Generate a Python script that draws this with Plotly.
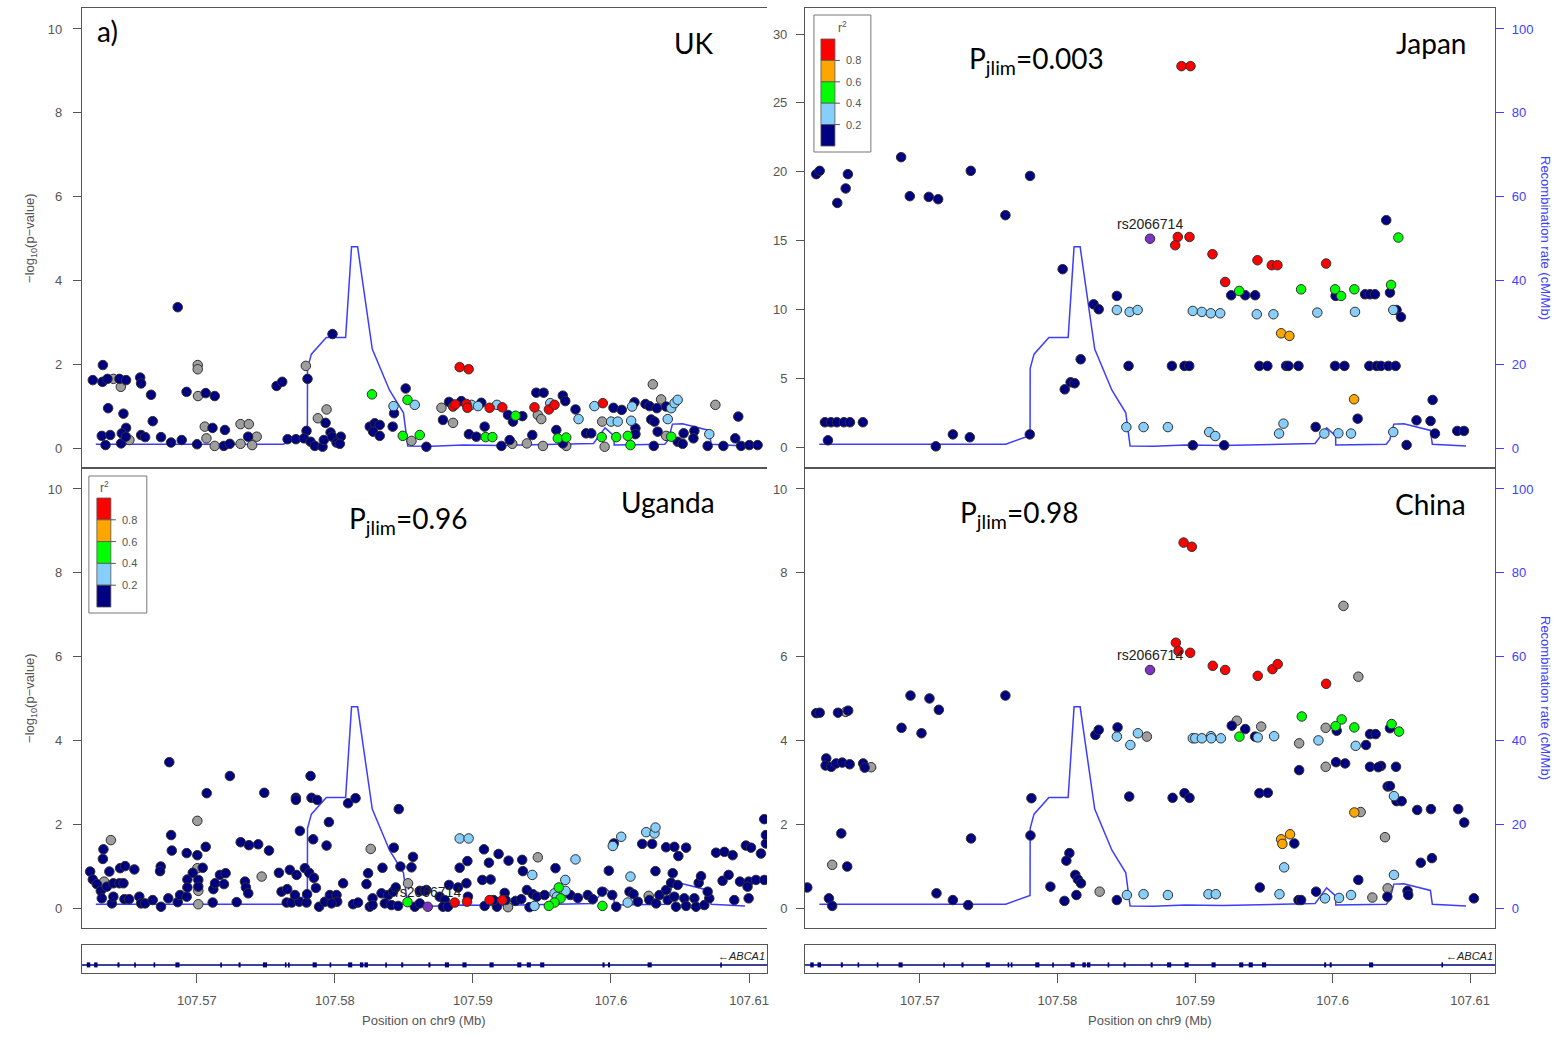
import plotly.graph_objects as go

# ---------------- data ----------------
tick_vals = [107.57, 107.58, 107.59, 107.60, 107.61]
tick_text = ["107.57", "107.58", "107.59", "107.6", "107.61"]
p_ticks_10 = [0, 2, 4, 6, 8, 10]
p_ticks_jp = [0, 5, 10, 15, 20, 25, 30]
rec_ticks = [0, 20, 40, 60, 80, 100]

index_snp = "rs2066714"
gene_name = "ABCA1"
pjlim_japan = "0.003"
pjlim_uganda = "0.96"
pjlim_china = "0.98"
legend_labels = ["0.8", "0.6", "0.4", "0.2"]

recomb_pos = [107.56269, 107.57624, 107.57801, 107.57802, 107.57830, 107.57938, 107.58078,
              107.58121, 107.58165, 107.58271, 107.58396, 107.58497, 107.58528, 107.58700,
              107.58930, 107.59200, 107.59873, 107.59957, 107.60022, 107.60023, 107.60390,
              107.60416, 107.60445, 107.60518, 107.60711, 107.60725, 107.60970]
recomb_rate = [0.9, 0.9, 3.0, 19.0, 22.4, 26.4, 26.4, 48.0, 48.0, 23.6, 13.8, 8.4, 0.5, 0.4,
               0.7, 0.6, 1.1, 4.8, 2.9, 0.7, 0.9, 2.0, 5.7, 5.8, 4.2, 0.9, 0.5]

gene_span = [107.5430, 107.6900]
exon_pos = [107.56216, 107.56269, 107.56433, 107.56553, 107.56693, 107.56860, 107.57176, 107.57310,
            107.57494, 107.57644, 107.57667, 107.57854, 107.57968, 107.58111, 107.58194, 107.58227,
            107.58371, 107.58488, 107.58685, 107.58812, 107.58939, 107.59135, 107.59336, 107.59405,
            107.59502, 107.59946, 107.59986, 107.60280, 107.60797]
exon_len_kb = [0.25, 0.25, 0.15, 0.12, 0.12, 0.3, 0.12, 0.15, 0.3, 0.12, 0.12, 0.3, 0.12, 0.3, 0.25,
               0.25, 0.12, 0.15, 0.15, 0.3, 0.3, 0.3, 0.3, 0.3, 0.3, 0.15, 0.15, 0.3, 0.12]

# LD codes: x = no r2 (grey), n <0.2, l 0.2-0.4, g 0.4-0.6, o 0.6-0.8, r >0.8, p = index SNP
uk_pos = [107.56862, 107.56320, 107.56247, 107.56317, 107.56353, 107.56396, 107.56440, 107.56488, 107.56450, 107.56590,
          107.56597, 107.56358, 107.56469, 107.56669, 107.56681, 107.56312, 107.56373, 107.56339, 107.56452, 107.56488,
          107.56457, 107.56486, 107.56512, 107.56597, 107.56626, 107.56741, 107.56814, 107.56891, 107.57007, 107.57007,
          107.56926, 107.57009, 107.57065, 107.57130, 107.57058, 107.57114, 107.57204, 107.57070, 107.57002, 107.57130,
          107.57196, 107.57239, 107.57317, 107.57377, 107.57317, 107.57401, 107.57372, 107.57434, 107.57578, 107.57619,
          107.57658, 107.57718, 107.57790, 107.57802, 107.57983, 107.57940, 107.57877, 107.57933, 107.57795, 107.57776,
          107.57824, 107.57855, 107.57911, 107.57920, 107.57969, 107.57980, 107.58043, 107.58012, 107.58036, 107.58269,
          107.58513, 107.58526, 107.58579, 107.58425, 107.58429, 107.58419, 107.58253, 107.58289, 107.58325, 107.58277,
          107.58325, 107.58492, 107.58615, 107.58555, 107.58663, 107.58904, 107.58969, 107.58772, 107.58827, 107.58856,
          107.58873, 107.58916, 107.58953, 107.58960, 107.58989, 107.59037, 107.59061, 107.59121, 107.59174, 107.59213,
          107.58783, 107.58856, 107.59085, 107.59254, 107.59309, 107.59358, 107.59290, 107.58971, 107.59025, 107.59092,
          107.59141, 107.59206, 107.59266, 107.59285, 107.59391, 107.59430, 107.59507, 107.59459, 107.59512, 107.59446,
          107.59550, 107.59591, 107.59560, 107.59470, 107.59495, 107.59651, 107.59669, 107.59743, 107.59765, 107.59604,
          107.59615, 107.59676, 107.59676, 107.59651, 107.59820, 107.59857, 107.59936, 107.60001, 107.60049, 107.59880,
          107.59941, 107.60018, 107.60078, 107.59933, 107.60038, 107.59954, 107.60122, 107.60141, 107.60177, 107.60177,
          107.60146, 107.60153, 107.60170, 107.60250, 107.60279, 107.60303, 107.60332, 107.60363, 107.60399, 107.60436,
          107.60460, 107.60483, 107.60411, 107.60291, 107.60315, 107.60338, 107.60399, 107.60436, 107.60483, 107.60519,
          107.60310, 107.60526, 107.60604, 107.60597, 107.60712, 107.60700, 107.60756, 107.60814, 107.60900, 107.60922,
          107.60942, 107.61002, 107.61062]
uk_logp = [3.36, 1.98, 1.62, 1.58, 1.65, 1.65, 1.65, 1.62, 1.46, 1.68,
           1.54, 0.95, 0.82, 1.27, 0.64, 0.29, 0.31, 0.07, 0.11, 0.48,
           0.35, 0.27, 0.19, 0.31, 0.26, 0.26, 0.13, 0.19, 1.98, 1.88,
           1.34, 1.24, 1.31, 1.24, 0.51, 0.48, 0.43, 0.23, 0.09, 0.05,
           0.05, 0.10, 0.57, 0.57, 0.10, 0.07, 0.27, 0.27, 1.48, 1.58,
           0.21, 0.21, 1.96, 1.65, 2.72, 0.92, 0.71, 0.60, 0.41, 0.23,
           0.15, 0.05, 0.03, 0.19, 0.37, 0.27, 0.27, 0.13, 0.10, 1.28,
           1.42, 1.15, 1.03, 1.00, 0.83, 0.51, 0.51, 0.59, 0.55, 0.39,
           0.29, 0.29, 0.31, 0.17, 0.03, 1.93, 1.88, 0.96, 1.10, 0.99,
           1.04, 1.12, 1.05, 0.96, 1.03, 1.00, 1.08, 0.96, 1.03, 0.97,
           0.67, 0.60, 0.51, 0.79, 0.77, 0.76, 0.63, 0.33, 0.27, 0.26,
           0.26, 0.05, 0.19, 0.10, 0.11, 0.31, 0.05, 1.32, 1.32, 0.97,
           0.92, 1.03, 1.07, 0.79, 0.69, 1.25, 1.12, 0.92, 0.69, 0.43,
           0.23, 0.25, 0.05, 0.11, 0.35, 0.35, 0.63, 0.63, 0.63, 1.00,
           1.07, 0.96, 0.91, 0.26, 0.26, 0.03, 0.29, 0.07, 0.47, 0.33,
           0.65, 0.99, 1.09, 1.05, 1.00, 1.52, 0.95, 1.16, 0.99, 0.95,
           1.07, 1.15, 0.69, 0.68, 0.63, 0.39, 0.29, 0.27, 0.15, 0.10,
           0.05, 0.35, 0.41, 0.23, 0.33, 0.05, 1.03, 0.05, 0.23, 0.75,
           0.05, 0.07, 0.07]
uk_ld = list("nnnnnxnnxn" "nnnnnnnnnn" "nnxnnnnnxx" "nxnnxnnxnx" "nnxxxxnxnn"
             "nnxnnxxnnn" "nnnnnnnnng" "ngllnnnnnn" "nggxnrrxnr" "rnrrllnrlr"
             "nxnngnnnng" "gnnxxnxnnr" "rrlxxnnnln" "ggxnnnxlll" "rnnggxggnn"
             "llnnnxnxnl" "lllnnnxgnn" "nnnnlnxnnn" "nnn")

jp_pos = [107.56247, 107.56272, 107.56477, 107.56461, 107.56400, 107.56864, 107.56927, 107.57065, 107.57133, 107.57370,
          107.57622, 107.57801, 107.56310, 107.56354, 107.56397, 107.56448, 107.56492, 107.56586, 107.56332, 107.57116,
          107.57240, 107.57363, 107.57799, 107.58038, 107.58053, 107.58096, 107.58125, 107.58169, 107.58263, 107.58300,
          107.58432, 107.58432, 107.58525, 107.58583, 107.58517, 107.58501, 107.58626, 107.58803, 107.58902, 107.58967,
          107.58875, 107.58960, 107.58856, 107.59127, 107.59454, 107.59558, 107.59599, 107.59953, 107.59219, 107.60390,
          107.60478, 107.58984, 107.59050, 107.59115, 107.59183, 107.59263, 107.59321, 107.59365, 107.59437, 107.59449,
          107.59570, 107.59771, 107.59889, 107.60022, 107.60018, 107.60062, 107.60158, 107.60236, 107.60272, 107.60308,
          107.60417, 107.60425, 107.60163, 107.60465, 107.60441, 107.60497, 107.59626, 107.59686, 107.58832, 107.58924,
          107.58958, 107.59468, 107.59526, 107.59662, 107.59679, 107.59752, 107.60018, 107.60086, 107.60267, 107.60320,
          107.60352, 107.60405, 107.60458, 107.60156, 107.60727, 107.60182, 107.60610, 107.60712, 107.60744, 107.60906,
          107.60955, 107.60538, 107.60441, 107.59877, 107.59940, 107.60042, 107.60134, 107.59643, 107.59611, 107.59103,
          107.59147, 107.58984, 107.59212, 107.58673]
jp_logp = [19.83, 20.07, 19.83, 18.79, 17.74, 21.06, 18.23, 18.18, 18.01, 20.07,
           16.85, 19.70, 1.82, 1.82, 1.82, 1.82, 1.82, 1.82, 0.51, 0.07,
           0.94, 0.73, 0.94, 12.93, 4.21, 4.72, 4.65, 6.39, 10.38, 10.02,
           10.99, 9.97, 9.83, 9.97, 5.91, 1.47, 1.47, 1.47, 27.67, 27.67,
           15.27, 15.27, 14.67, 14.02, 13.58, 13.22, 13.22, 13.34, 12.00, 16.49,
           15.23, 9.90, 9.83, 9.73, 9.73, 11.04, 11.35, 11.04, 11.04, 9.66,
           9.66, 11.47, 9.78, 10.99, 11.47, 10.99, 11.47, 11.11, 11.11, 11.11,
           11.23, 11.79, 9.83, 9.97, 9.97, 9.46, 8.28, 8.09, 5.91, 5.91,
           5.91, 5.91, 5.91, 5.91, 5.91, 5.91, 5.91, 5.91, 5.91, 5.91,
           5.91, 5.91, 5.91, 3.49, 3.44, 2.08, 1.96, 1.91, 1.00, 1.19,
           1.19, 0.17, 1.11, 1.48, 1.00, 1.02, 1.00, 1.72, 1.00, 1.11,
           0.82, 0.15, 0.15, 15.14]
jp_ld = list("nnnnnnnnnn" "nnnnnnnnnn" "nnnnnnnnnn" "nlllnlllrr" "rrrrrrrrrn"
             "gllllngnnl" "lglngggnnn" "nglnlnoonn" "nnnnnnnnnn" "nnnonnnnnn"
             "nnlnllllll" "lnnp")

ug_pos = [107.56801, 107.57240, 107.57824, 107.57072, 107.57489, 107.57718, 107.57718, 107.57831, 107.57872, 107.58096,
          107.58150, 107.58463, 107.57004, 107.56378, 107.56814, 107.57957, 107.57747, 107.57843, 107.56324, 107.56320,
          107.56819, 107.56927, 107.57004, 107.57065, 107.57318, 107.57378, 107.57445, 107.57523, 107.57940, 107.58260,
          107.58427, 107.58566, 107.56228, 107.56247, 107.56276, 107.56305, 107.56312, 107.56329, 107.56367, 107.56349,
          107.56396, 107.56385, 107.56396, 107.56445, 107.56481, 107.56548, 107.56440, 107.56469, 107.56476, 107.56510,
          107.56584, 107.56597, 107.56626, 107.56681, 107.56739, 107.56734, 107.56741, 107.56794, 107.56862, 107.56879,
          107.56927, 107.56932, 107.56932, 107.56971, 107.57004, 107.57043, 107.57011, 107.57011, 107.57011, 107.57011,
          107.57115, 107.57120, 107.57132, 107.57168, 107.57209, 107.57197, 107.57289, 107.57349, 107.57356, 107.57373,
          107.57470, 107.57595, 107.57614, 107.57655, 107.57674, 107.57723, 107.57651, 107.57687, 107.57742, 107.57795,
          107.57711, 107.57799, 107.57783, 107.57814, 107.57848, 107.57863, 107.57886, 107.57928, 107.57964, 107.58012,
          107.58017, 107.57976, 107.58060, 107.58132, 107.58168, 107.58241, 107.58229, 107.58253, 107.58273, 107.58273,
          107.58345, 107.58338, 107.58386, 107.58422, 107.58441, 107.58475, 107.58555, 107.58362, 107.58410, 107.58458,
          107.58530, 107.58526, 107.58579, 107.58615, 107.58663, 107.58868, 107.58957, 107.59121, 107.59213, 107.58904,
          107.58969, 107.59080, 107.59186, 107.59258, 107.58960, 107.58904, 107.59116, 107.59068, 107.59128, 107.58827,
          107.58892, 107.58953, 107.58759, 107.58796, 107.58783, 107.58819, 107.58615, 107.58651, 107.58964, 107.59085,
          107.59174, 107.59150, 107.59230, 107.59237, 107.59254, 107.59309, 107.59350, 107.59410, 107.59391, 107.59434,
          107.59470, 107.59357, 107.59362, 107.59430, 107.59446, 107.59463, 107.59519, 107.59598, 107.59591, 107.59608,
          107.59622, 107.59635, 107.59591, 107.59550, 107.59671, 107.59669, 107.59743, 107.59705, 107.59760, 107.59832,
          107.59868, 107.59936, 107.59938, 107.60009, 107.60038, 107.59984, 107.60013, 107.60020, 107.60074, 107.60141,
          107.60121, 107.60134, 107.60163, 107.60194, 107.60226, 107.60298, 107.60255, 107.60315, 107.60322, 107.60322,
          107.60273, 107.60278, 107.60327, 107.60351, 107.60399, 107.60411, 107.60399, 107.60459, 107.60544, 107.60488,
          107.60447, 107.60435, 107.60483, 107.60459, 107.60471, 107.60531, 107.60544, 107.60604, 107.60616, 107.60676,
          107.60712, 107.60635, 107.60652, 107.60700, 107.60761, 107.60821, 107.60881, 107.60808, 107.60852, 107.60893,
          107.60997, 107.60934, 107.60997, 107.61050, 107.61110, 107.60989, 107.60977, 107.61014, 107.61086, 107.61122,
          107.61122, 107.61110, 107.58673]
ug_logp = [3.48, 3.15, 3.15, 2.74, 2.75, 2.63, 2.58, 2.63, 2.58, 2.50,
           2.62, 2.36, 2.08, 1.62, 1.74, 2.05, 1.84, 1.64, 1.40, 1.17,
           1.37, 1.31, 1.26, 1.46, 1.57, 1.50, 1.52, 1.37, 1.49, 1.41,
           1.44, 1.22, 0.87, 0.68, 0.57, 0.41, 0.23, 0.63, 0.87, 0.51,
           0.59, 0.11, 0.27, 0.95, 1.00, 0.92, 0.59, 0.59, 0.21, 0.21,
           0.27, 0.11, 0.11, 0.19, 0.99, 0.88, 0.03, 0.23, 0.14, 0.31,
           0.27, 0.68, 0.49, 0.84, 0.95, 0.96, 0.67, 0.51, 0.41, 0.09,
           0.13, 0.45, 0.59, 0.79, 0.83, 0.57, 0.14, 0.63, 0.49, 0.35,
           0.75, 0.84, 0.39, 0.45, 0.91, 0.79, 0.13, 0.13, 0.15, 0.13,
           0.31, 0.33, 0.95, 0.84, 0.72, 0.48, 0.03, 0.15, 0.31, 0.31,
           0.15, 0.11, 0.59, 0.09, 0.13, 0.83, 0.57, 0.03, 0.23, 0.07,
           0.96, 0.35, 0.31, 0.39, 0.49, 0.99, 0.97, 0.11, 0.07, 0.05,
           0.59, 0.14, 0.03, 0.11, 0.43, 0.13, 0.15, 0.19, 0.19, 1.66,
           1.66, 1.40, 1.29, 1.13, 1.12, 0.96, 1.08, 0.67, 0.68, 0.55,
           0.49, 0.59, 0.27, 0.19, 0.03, 0.03, 0.41, 0.41, 0.27, 0.05,
           0.03, 0.19, 0.36, 0.19, 0.02, 0.17, 0.21, 0.02, 0.43, 0.33,
           1.21, 1.15, 0.88, 0.79, 0.05, 0.27, 0.31, 0.95, 0.35, 0.27,
           0.49, 0.23, 0.13, 0.05, 0.41, 0.67, 1.16, 0.31, 0.24, 0.31,
           0.21, 0.39, 0.05, 0.31, 0.03, 0.89, 1.48, 1.54, 1.70, 0.75,
           0.13, 0.39, 0.33, 0.15, 1.53, 1.53, 1.81, 1.78, 1.92, 0.88,
           0.29, 0.19, 0.11, 0.31, 0.43, 0.19, 1.45, 1.46, 1.44, 1.24,
           0.83, 0.60, 0.55, 0.27, 0.03, 0.23, 0.05, 0.23, 0.03, 0.07,
           0.23, 0.60, 0.76, 0.39, 1.32, 1.34, 1.26, 0.65, 0.79, 0.19,
           0.23, 0.63, 0.63, 0.67, 0.67, 0.51, 1.49, 1.44, 1.30, 1.54,
           1.74, 2.12, 0.03]
ug_ld = list("nnnnnnnnnn" "nnxxnnnnnn" "nnnnnnnnnx" "nnnnnnnxnn" "nnnnnnnnnn"
             "nnnnnnnnnn" "nnnnxnnnxx" "nnnnnnnnnn" "xnnnnnnnnn" "nnnnnnnnnn"
             "nnnnnnnnnn" "nnnnnnnnnn" "xgnnnrrrrl" "lnnnnnnnnn" "nnnnnnnnnn"
             "nnnnxnnnnn" "xnnllnnnll" "gggglllnnn" "nngnnnlnll" "lnnnnnllln"
             "xnnnnnnnnn" "nnnnnnnnnn" "nnnnnnnnnn" "nnnnnnnnnn" "nnp")

cn_pos = [107.56247, 107.56272, 107.56405, 107.56461, 107.56479, 107.56932, 107.57070, 107.57138, 107.56867, 107.57012,
          107.57622, 107.56320, 107.56315, 107.56356, 107.56392, 107.56436, 107.56490, 107.56588, 107.56599, 107.56646,
          107.56429, 107.56363, 107.56472, 107.56182, 107.56339, 107.56363, 107.57121, 107.57240, 107.57351, 107.57372,
          107.57811, 107.57804, 107.58087, 107.58065, 107.58130, 107.58149, 107.58171, 107.57949, 107.58051, 107.58138,
          107.58307, 107.58432, 107.58505, 107.58626, 107.58276, 107.58300, 107.58437, 107.58432, 107.58530, 107.58585,
          107.58650, 107.58522, 107.58673, 107.58917, 107.58977, 107.60079, 107.58861, 107.58880, 107.58965, 107.59129,
          107.59219, 107.59456, 107.59563, 107.59601, 107.59953, 107.60187, 107.59776, 107.60066, 107.60022, 107.60158,
          107.60429, 107.60483, 107.60417, 107.59950, 107.60030, 107.59304, 107.59267, 107.59365, 107.59481, 107.59323,
          107.59437, 107.59456, 107.59575, 107.58984, 107.59002, 107.59050, 107.59115, 107.59118, 107.59188, 107.59757,
          107.59897, 107.60168, 107.60243, 107.60272, 107.60313, 107.59757, 107.59950, 107.60025, 107.60091, 107.60272,
          107.60352, 107.60461, 107.60332, 107.60400, 107.60417, 107.60446, 107.60465, 107.60502, 107.60615, 107.60715,
          107.60913, 107.60957, 107.60158, 107.60204, 107.58837, 107.58924, 107.58960, 107.59468, 107.59529, 107.59626,
          107.59635, 107.59691, 107.59722, 107.60381, 107.59648, 107.60641, 107.60722, 107.60187, 107.60446, 107.60400,
          107.60545, 107.60550, 107.59471, 107.59614, 107.59752, 107.59771, 107.59880, 107.59945, 107.60047, 107.60134,
          107.60289, 107.60398, 107.61027, 107.58803, 107.59098, 107.59151]
cn_logp = [4.65, 4.66, 4.66, 4.68, 4.71, 5.07, 5.00, 4.73, 4.30, 4.17,
           5.07, 3.57, 3.40, 3.37, 3.45, 3.47, 3.43, 3.45, 3.35, 3.36,
           1.78, 1.03, 0.99, 0.49, 0.23, 0.05, 0.35, 0.19, 0.07, 1.66,
           2.62, 1.73, 1.31, 1.13, 0.79, 0.68, 0.59, 0.51, 0.17, 0.31,
           0.39, 0.19, 0.31, 0.33, 4.13, 4.25, 4.31, 4.09, 3.89, 4.17,
           4.09, 2.66, 5.68, 8.72, 8.62, 7.21, 6.33, 6.13, 6.09, 5.78,
           5.68, 5.54, 5.70, 5.82, 5.35, 5.52, 4.57, 4.50, 4.34, 4.31,
           4.39, 4.21, 4.29, 4.30, 4.23, 4.47, 4.35, 4.27, 4.33, 4.09,
           4.09, 4.07, 4.10, 4.05, 4.05, 4.05, 4.10, 4.05, 4.05, 3.93,
           4.00, 3.87, 3.89, 4.15, 4.15, 3.29, 3.37, 3.48, 3.45, 3.37,
           3.39, 3.37, 3.36, 2.90, 2.91, 2.67, 2.55, 2.55, 2.34, 2.36,
           2.36, 2.04, 2.28, 2.29, 2.63, 2.74, 2.63, 2.74, 2.75, 1.64,
           1.53, 1.76, 1.54, 1.69, 0.97, 1.08, 1.19, 0.67, 0.79, 0.47,
           0.41, 0.31, 0.49, 0.33, 0.19, 0.19, 0.39, 0.23, 0.24, 0.31,
           0.25, 0.27, 0.23, 0.31, 0.33, 0.33]
cn_ld = list("nnnxnnnnnn" "nnnnnnnnnx" "nxnnnnnnnn" "nnnnnnnnnn" "xnllnnnlll"
             "xnprrxrrrr" "rrrrrxgggg" "ggnxnxnnxg" "nllllllllx" "llnnnnxnnn"
             "nnnnnlnnnn" "nnoxnnnnno" "oonxlnnnlx" "nnnlnnnlll" "xnnlll")

# ---------------- styling ----------------
W, H = 1556, 1043
def fx(p):
    return p / W
def fy(p):
    return 1 - p / H

LD_ORDER = ["x", "n", "l", "g", "o", "r", "p"]
LD_COLOR = {"x": "#9E9E9E", "n": "#000080", "l": "#87CEFA", "g": "#00FF00",
            "o": "#FFA500", "r": "#FF0000", "p": "#7E33C6"}
BIN_COLORS = ["#FF0000", "#FFA500", "#00FF00", "#87CEFA", "#000080"]
REC_COLOR = "rgba(40,40,255,0.9)"
AXC = "#555555"
FAM = "Liberation Sans, Arial, sans-serif"
TICKFONT = dict(family=FAM, size=13, color="#555555")
BIGFONT = dict(family="Lato, Open Sans, sans-serif", size=28, color="black")

L = [fx(82), fx(768)]
R = [fx(806), fx(1497)]
TOP = [fy(468), fy(8)]
BOT = [fy(928), fy(468)]
GENE = [fy(973), fy(945)]
XR_L = [107.56168, 107.61130]
XR_R = [107.56165, 107.61181]
YR_10 = [-0.477, 10.50]
YR_JP = [-1.50, 31.89]
YR_REC = [-4.77, 105.0]

fig = go.Figure()

panels = [
    (uk_pos, uk_logp, uk_ld, "x", "y", "y7", L, TOP, XR_L, YR_10, p_ticks_10, False, False),
    (jp_pos, jp_logp, jp_ld, "x2", "y2", "y8", R, TOP, XR_R, YR_JP, p_ticks_jp, True, True),
    (ug_pos, ug_logp, ug_ld, "x3", "y3", "y9", L, BOT, XR_L, YR_10, p_ticks_10, False, True),
    (cn_pos, cn_logp, cn_ld, "x4", "y4", "y10", R, BOT, XR_R, YR_10, p_ticks_10, True, True),
]

layout = {}
annotations = []
shapes = []

def axkey(a):
    return ("xaxis" if a[0] == "x" else "yaxis") + a[1:]

for (pos, logp, ld, xa, ya_rec, ya_pts, xdom, ydom, xr, yr, yt, right, lab) in panels:
    n = min(len(pos), len(logp), len(ld))
    fig.add_trace(go.Scatter(x=recomb_pos, y=recomb_rate, xaxis=xa, yaxis=ya_rec, mode="lines",
                             line=dict(color=REC_COLOR, width=1.5), hoverinfo="skip"))
    order = sorted(range(n), key=lambda i: LD_ORDER.index(ld[i]))
    fig.add_trace(go.Scatter(x=[pos[i] for i in order], y=[logp[i] for i in order],
                             xaxis=xa, yaxis=ya_pts, mode="markers",
                             marker=dict(size=9.5, color=[LD_COLOR[ld[i]] for i in order],
                                         line=dict(color="#303030", width=1))))
    layout[axkey(xa)] = dict(domain=xdom, range=xr, anchor=ya_rec, showline=True, mirror=True,
                             linecolor=AXC, linewidth=1, showticklabels=False, ticks="",
                             showgrid=False, zeroline=False)
    if right:
        layout[axkey(ya_rec)] = dict(domain=ydom, range=YR_REC, anchor=xa, side="right",
                                     showline=True, linecolor=AXC, linewidth=1,
                                     tickvals=rec_ticks, ticks="outside", ticklen=8,
                                     tickcolor="#4040FF", ticklabelstandoff=5,
                                     tickfont=dict(family=FAM, size=13, color="#4040FF"),
                                     showgrid=False, zeroline=False)
    else:
        layout[axkey(ya_rec)] = dict(domain=ydom, range=YR_REC, anchor=xa, side="right",
                                     showline=False, showticklabels=False, ticks="",
                                     showgrid=False, zeroline=False)
    layout[axkey(ya_pts)] = dict(overlaying=ya_rec, anchor=xa, side="left", range=yr,
                                 tickvals=yt, ticks="outside", ticklen=8, tickcolor=AXC,
                                 ticklabelstandoff=8 if xdom is L else 6,
                                 tickfont=TICKFONT, showline=True, linecolor=AXC, linewidth=1,
                                 showgrid=False, zeroline=False)
    if lab:
        k = [i for i in range(n) if ld[i] == "p"][0]
        annotations.append(dict(x=pos[k], y=logp[k], xref=xa, yref=ya_pts, text=index_snp,
                                showarrow=False, yshift=15, xanchor="center", yanchor="middle",
                                font=dict(family=FAM, size=14, color="#222222")))

# gene tracks
for xa, ya, xdom, xr in [("x5", "y5", L, XR_L), ("x6", "y6", R, XR_R)]:
    fig.add_trace(go.Scatter(x=gene_span, y=[0.29, 0.29], xaxis=xa, yaxis=ya, mode="lines",
                             line=dict(color="#000080", width=1.5), hoverinfo="skip"))
    ex, ey = [], []
    for p_, w_ in zip(exon_pos, exon_len_kb):
        ex += [p_ - w_ / 2000.0, p_ + w_ / 2000.0, None]
        ey += [0.29, 0.29, None]
    fig.add_trace(go.Scatter(x=ex, y=ey, xaxis=xa, yaxis=ya, mode="lines",
                             line=dict(color="#000080", width=5), hoverinfo="skip"))
    layout[axkey(xa)] = dict(domain=xdom, range=xr, anchor=ya, showline=True, mirror=True,
                             linecolor=AXC, linewidth=1, tickvals=tick_vals, ticktext=tick_text,
                             ticks="outside", ticklen=9, tickcolor=AXC, ticklabelstandoff=6,
                             tickfont=TICKFONT, showgrid=False, zeroline=False)
    layout[axkey(ya)] = dict(domain=GENE, range=[0, 1], anchor=xa, showline=True, mirror=True,
                             linecolor=AXC, linewidth=1, showticklabels=False, ticks="",
                             showgrid=False, zeroline=False)
    annotations.append(dict(x=xr[1], y=0.6, xref=xa, yref=ya, xanchor="right", yanchor="middle",
                            text="\u2190<i>" + gene_name + "</i>", showarrow=False,
                            font=dict(family=FAM, size=11, color="#222222")))
    cx = (xdom[0] + xdom[1]) / 2
    annotations.append(dict(x=cx, y=fy(1020), xref="paper", yref="paper", text="Position on chr9 (Mb)",
                            xanchor="center", yanchor="middle", showarrow=False, font=TICKFONT))

# axis titles
for yc in (238, 698):
    annotations.append(dict(x=fx(30), y=fy(yc), xref="paper", yref="paper", textangle=-90,
                            xanchor="center", yanchor="middle",
                            text="\u2212log<sub>10</sub>(p\u2212value)", showarrow=False,
                            font=dict(family=FAM, size=13, color="#555555")))
    annotations.append(dict(x=fx(1548), y=fy(yc), xref="paper", yref="paper", textangle=90,
                            xanchor="center", yanchor="middle",
                            text="Recombination rate (cM/Mb)", showarrow=False,
                            font=dict(family=FAM, size=13, color="#4040FF")))

# panel texts
def txt(x, y, s, xanchor="right"):
    annotations.append(dict(x=fx(x), y=fy(y), xref="paper", yref="paper", text=s, showarrow=False,
                            xanchor=xanchor, yanchor="middle", font=BIGFONT))

txt(95, 31, "a)", "left")
txt(717, 43, "UK")
txt(1470, 43, "Japan")
txt(718, 502, "Uganda")
txt(1470, 504, "China")
txt(968, 60, "P<sub>jlim</sub>=" + pjlim_japan, "left")
txt(347, 520, "P<sub>jlim</sub>=" + pjlim_uganda, "left")
txt(959, 514, "P<sub>jlim</sub>=" + pjlim_china, "left")

# r2 legends
def legend(box, bar_x0, bar_top, seg, rx, ry):
    x0, y0, x1, y1 = box
    shapes.append(dict(type="rect", xref="paper", yref="paper", x0=fx(x0), x1=fx(x1), y0=fy(y1), y1=fy(y0),
                       line=dict(color="#777777", width=1), fillcolor="white", layer="above"))
    for k, c in enumerate(BIN_COLORS):
        shapes.append(dict(type="rect", xref="paper", yref="paper", x0=fx(bar_x0), x1=fx(bar_x0 + 14),
                           y0=fy(bar_top + (k + 1) * seg), y1=fy(bar_top + k * seg),
                           line=dict(color="#555555", width=0.8), fillcolor=c, layer="above"))
    for k, lab in enumerate(legend_labels):
        yy = bar_top + (k + 1) * seg
        shapes.append(dict(type="line", xref="paper", yref="paper", x0=fx(bar_x0 + 14), x1=fx(bar_x0 + 19),
                           y0=fy(yy), y1=fy(yy), line=dict(color="#555555", width=1), layer="above"))
        annotations.append(dict(x=fx(bar_x0 + 23), y=fy(yy), xref="paper", yref="paper", text=lab,
                                xanchor="left", yanchor="middle", showarrow=False,
                                font=dict(family=FAM, size=11, color="#555555")))
    annotations.append(dict(x=fx(rx), y=fy(ry), xref="paper", yref="paper", text="r<sup>2</sup>",
                            xanchor="center", yanchor="middle",
                            showarrow=False, font=dict(family=FAM, size=12, color="#555555")))

legend((815, 15, 872, 152), 822, 39, 21.4, 844, 27)
legend((89, 476, 147, 613), 97, 498, 21.8, 105, 487)

fig.update_layout(width=W, height=H, margin=dict(l=0, r=0, t=0, b=0), showlegend=False,
                  plot_bgcolor="white", paper_bgcolor="white",
                  annotations=annotations, shapes=shapes, **layout)

fig.write_html("out.html")
